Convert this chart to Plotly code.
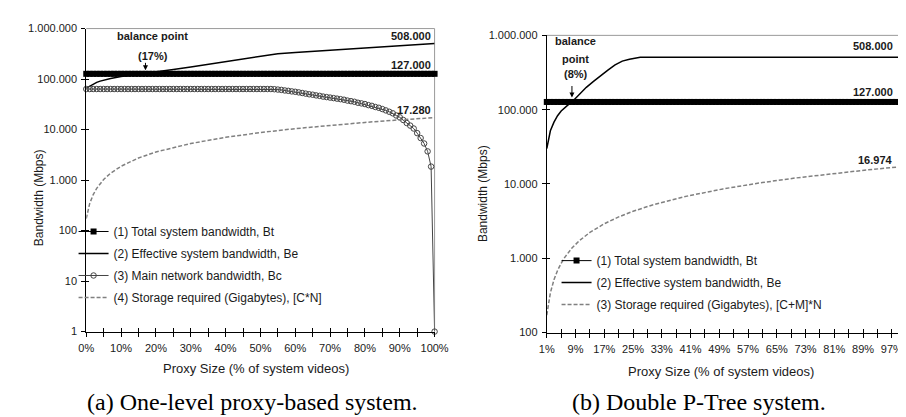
import plotly.graph_objects as go

W, H = 906, 417


def px(v):
    return v / W


def py(v):
    return 1 - v / H


# ---------------- data: (a) one-level proxy ----------------
a_x = list(range(0, 101))
a_bt = [127000] * 101
a_bc = [63500] * 54 + [63000, 62000, 61000, 59500, 58500, 57000, 56000, 54500, 53000, 51500,
                       50000, 49000, 47500, 46500, 45000, 44000, 43000, 42000, 41000, 40000,
                       39000, 37500, 36500, 35500, 34000, 33000, 32000, 30500, 29500, 28000,
                       27000, 25500, 24000, 22500, 21000, 19000, 17500, 15500, 13500, 12000,
                       10500, 8500, 6800, 5300, 3700, 1850, 1]
a_be_x = [0, 1, 2, 3, 4, 5, 7, 10, 13, 17, 20, 25, 30, 35, 40, 45, 50, 55, 60, 65, 70, 75, 80, 85, 90, 95, 100]
a_be = [66000, 73000, 80000, 86000, 91000, 95000, 103000, 112000, 119000, 127000, 136500, 154000,
        174000, 196000, 221000, 250000, 282000, 317500, 334700, 352000, 371000, 391000, 412000,
        434000, 457000, 482000, 508000]
a_st_x = [0, 1, 2, 3, 5, 7, 10, 15, 20, 30, 40, 50, 60, 70, 80, 90, 100]
a_st = [173, 346, 515, 686, 1030, 1370, 1880, 2740, 3600, 5300, 7020, 8730, 10440, 12150, 13860, 15570, 17280]

a_xticks = list(range(0, 101, 5))
a_xtext = ['0%', '', '10%', '', '20%', '', '30%', '', '40%', '', '50%', '', '60%', '', '70%', '',
           '80%', '', '90%', '', '100%']
a_yticks = [1, 10, 100, 1000, 10000, 100000, 1000000]
a_ytext = ['1', '10', '100', '1.000', '10.000', '100.000', '1.000.000']

# ---------------- data: (b) double P-tree ----------------
b_x = list(range(1, 100))
b_bt = [127000] * 99
b_be_x = [1, 2, 3, 4, 5, 6, 7, 8, 10, 12, 14, 16, 18, 20, 22, 24, 26, 27, 99]
b_be = [30000, 52000, 68000, 83000, 96000, 107000, 117000, 127000, 160000, 200000, 240000,
        290000, 340000, 400000, 450000, 478000, 500000, 508000, 508000]
b_st_x = [1, 2, 3, 4, 5, 6, 8, 10, 13, 17, 21, 25, 30, 35, 40, 50, 60, 70, 80, 90, 99]
b_st = [172, 343, 515, 686, 857, 1029, 1372, 1715, 2229, 2915, 3601, 4287, 5144, 6001, 6858,
        8573, 10287, 12002, 13716, 15431, 16974]

b_xticks = list(range(1, 100, 4))
b_xtext = ['1%', '', '9%', '', '17%', '', '25%', '', '33%', '', '41%', '', '49%', '', '57%', '',
           '65%', '', '73%', '', '81%', '', '89%', '', '97%']
b_yticks = [100, 1000, 10000, 100000, 1000000]
b_ytext = ['100', '1.000', '10.000', '100.000', '1.000.000']

SANS = "Liberation Sans, Arial, sans-serif"
SERIF = "Liberation Serif, Times New Roman, serif"
INK = "#1a1a1a"
GREY = "#808080"

fig = go.Figure()

# (a)
fig.add_trace(go.Scatter(x=a_x, y=a_bt, mode='lines+markers', name='(1) Total system bandwidth, Bt',
                         line=dict(color='black', width=1), cliponaxis=False,
                         marker=dict(symbol='square', size=6, color='black', line=dict(width=0)),
                         xaxis='x', yaxis='y', legend='legend', legendgroup='a1'))
fig.add_trace(go.Scatter(x=a_be_x, y=a_be, mode='lines', name='(2) Effective system bandwidth, Be',
                         line=dict(color='black', width=1.5), xaxis='x', yaxis='y', legend='legend',
                         legendgroup='a2'))
fig.add_trace(go.Scatter(x=a_x, y=a_bc, mode='lines+markers', name='(3) Main network bandwidth, Bc',
                         line=dict(color='#444444', width=1), cliponaxis=False,
                         marker=dict(symbol='circle-open', size=5.5, color='#444444', line=dict(width=1)),
                         xaxis='x', yaxis='y', legend='legend', legendgroup='a3'))
fig.add_trace(go.Scatter(x=a_st_x, y=a_st, mode='lines', name='(4) Storage required (Gigabytes), [C*N]',
                         line=dict(color=GREY, width=1.5, dash='4px,2px'), xaxis='x', yaxis='y',
                         legend='legend', legendgroup='a4'))

# (b)
fig.add_trace(go.Scatter(x=b_x, y=b_bt, mode='lines+markers', name='(1) Total system bandwidth, Bt',
                         line=dict(color='black', width=1), cliponaxis=False,
                         marker=dict(symbol='square', size=6, color='black', line=dict(width=0)),
                         xaxis='x2', yaxis='y2', legend='legend2', legendgroup='b1'))
fig.add_trace(go.Scatter(x=b_be_x, y=b_be, mode='lines', name='(2) Effective system bandwidth, Be',
                         line=dict(color='black', width=1.5), xaxis='x2', yaxis='y2', legend='legend2',
                         legendgroup='b2'))
fig.add_trace(go.Scatter(x=b_st_x, y=b_st, mode='lines', name='(3) Storage required (Gigabytes), [C+M]*N',
                         line=dict(color=GREY, width=1.5, dash='4px,2px'), xaxis='x2', yaxis='y2',
                         legend='legend2', legendgroup='b3'))

# dummy traces for overlay axes (inner half of crossing ticks)
fig.add_trace(go.Scatter(x=[None], y=[None], xaxis='x3', yaxis='y3', showlegend=False, hoverinfo='skip'))
fig.add_trace(go.Scatter(x=[None], y=[None], xaxis='x4', yaxis='y4', showlegend=False, hoverinfo='skip'))

tickfont = dict(family=SANS, size=11, color=INK)
common = dict(showgrid=False, zeroline=False, tickfont=tickfont, tickcolor='black', tickwidth=1)

a_xdom = [px(72), px(429)]
a_ydom = [py(327), py(15)]
b_xdom = [px(544), px(905)]
b_ydom = [py(328), py(22)]

legfont = dict(family=SANS, size=12, color=INK)

fig.update_layout(
    width=W, height=H, margin=dict(l=0, r=0, t=0, b=0),
    paper_bgcolor='white', plot_bgcolor='white', showlegend=True,
    xaxis=dict(domain=a_xdom, range=[0, 100], tickmode='array', tickvals=a_xticks, ticktext=a_xtext,
               ticks='outside', ticklen=4, showline=True, linecolor='black', linewidth=1, anchor='y',
               ticklabelstandoff=2, **common),
    yaxis=dict(domain=a_ydom, type='log', range=[0, 6], tickmode='array', tickvals=a_yticks, ticktext=a_ytext,
               ticks='outside', ticklen=4, showline=True, linecolor='black', linewidth=1, anchor='x',
               ticklabelstandoff=2, **common),
    xaxis3=dict(overlaying='x', anchor='y3', range=[0, 100], tickmode='array', tickvals=a_xticks,
                ticks='inside', ticklen=4, showticklabels=False, showline=False, **common),
    yaxis3=dict(overlaying='y', anchor='x3', type='log', range=[0, 6], tickmode='array', tickvals=a_yticks,
                ticks='inside', ticklen=3, showticklabels=False, showline=False, **common),
    xaxis2=dict(domain=b_xdom, range=[1, 99], tickmode='array', tickvals=b_xticks, ticktext=b_xtext,
                ticks='outside', ticklen=4, showline=True, linecolor='black', linewidth=1, anchor='y2',
                ticklabelstandoff=2, **common),
    yaxis2=dict(domain=b_ydom, type='log', range=[2, 6], tickmode='array', tickvals=b_yticks, ticktext=b_ytext,
                ticks='outside', ticklen=4, showline=True, linecolor='black', linewidth=1, anchor='x2',
                ticklabelstandoff=2, **common),
    xaxis4=dict(overlaying='x2', anchor='y4', range=[1, 99], tickmode='array', tickvals=b_xticks,
                ticks='inside', ticklen=4, showticklabels=False, showline=False, **common),
    yaxis4=dict(overlaying='y2', anchor='x4', type='log', range=[2, 6], tickmode='array', tickvals=b_yticks,
                ticks='inside', ticklen=3, showticklabels=False, showline=False, **common),
    legend=dict(x=px(59), y=py(209), xanchor='left', yanchor='top', bgcolor='rgba(0,0,0,0)',
                font=legfont, traceorder='grouped', tracegroupgap=3, borderwidth=0),
    legend2=dict(x=px(554), y=py(239), xanchor='left', yanchor='top', bgcolor='rgba(0,0,0,0)',
                 font=legfont, traceorder='grouped', tracegroupgap=3, borderwidth=0),
)

# grey frame (top & right) of each plot area
for xr, yr in [('x domain', 'y domain'), ('x2 domain', 'y2 domain')]:
    fig.add_shape(type='line', xref=xr, yref=yr, x0=0, x1=1, y0=1, y1=1,
                  line=dict(color='#9a9a9a', width=1), layer='below')
    fig.add_shape(type='line', xref=xr, yref=yr, x0=1, x1=1, y0=0, y1=1,
                  line=dict(color='#9a9a9a', width=1), layer='below')

ann = []
bold = dict(family=SANS, size=11, color=INK)


def label(x, y, text, xanchor='center', font=bold):
    ann.append(dict(x=px(x), y=py(y), xref='paper', yref='paper', text=text, showarrow=False,
                    xanchor=xanchor, yanchor='middle', font=font))


# (a) annotations
label(140, 23, '<b>balance point</b>')
label(140, 43, '<b>(17%)</b>')
label(427, 23, '<b>508.000</b>', 'right')
label(427, 52, '<b>127.000</b>', 'right')
label(427, 99, '<b>17.280</b>', 'right')
ann.append(dict(x=17, xref='x', y=py(58), yref='paper', text='', showarrow=True, ax=0, ay=-9,
                arrowhead=2, arrowsize=1, arrowwidth=1, arrowcolor='black'))
# (b) annotations
label(573, 28, '<b>balance</b>')
label(573, 46, '<b>point</b>')
label(574, 62, '<b>(8%)</b>')
label(901, 33, '<b>508.000</b>', 'right')
label(901, 80, '<b>127.000</b>', 'right')
label(901, 150, '<b>16.974</b>', 'right')
ann.append(dict(x=8, xref='x2', y=py(86), yref='paper', text='', showarrow=True, ax=0, ay=-13,
                arrowhead=2, arrowsize=1, arrowwidth=1, arrowcolor='black'))

# axis titles
tfont = dict(family=SANS, size=13, color=INK)
label(246, 365, 'Proxy Size (% of system videos)', font=tfont)
label(723, 368, 'Proxy Size (% of system videos)', font=tfont)
for xx, yy in [(14, 189), (478, 185)]:
    ann.append(dict(x=px(xx), y=py(yy), xref='paper', yref='paper', text='Bandwidth (Mbps)',
                    showarrow=False, textangle=-90, font=dict(family=SANS, size=12, color=INK)))

# captions
cfont = dict(family=SERIF, size=24, color='black')
label(242, 399, '(a) One-level proxy-based system.', font=cfont)
label(700, 399, '(b) Double P-Tree system.', font=cfont)

fig.update_layout(annotations=ann)
fig.write_html("out.html")
